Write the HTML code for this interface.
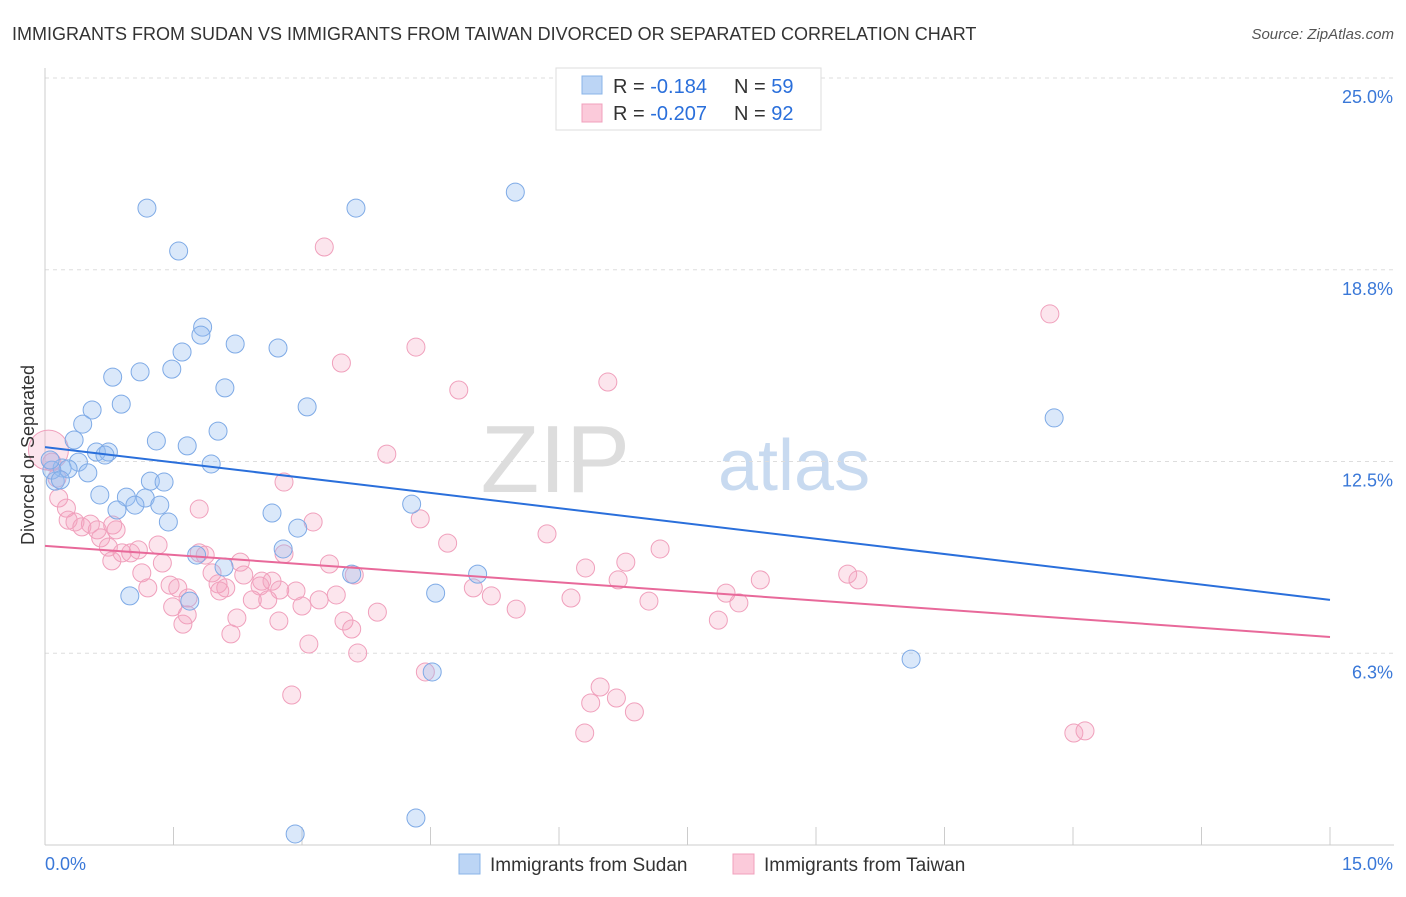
<!DOCTYPE html>
<html><head><meta charset="utf-8"><style>
body{margin:0;background:#fff;font-family:"Liberation Sans",sans-serif;}
svg text{font-family:"Liberation Sans",sans-serif;}
</style></head><body>
<svg width="1406" height="892" viewBox="0 0 1406 892">
<text x="12" y="40" font-size="18" fill="#333">IMMIGRANTS FROM SUDAN VS IMMIGRANTS FROM TAIWAN DIVORCED OR SEPARATED CORRELATION CHART</text>
<text x="1394" y="39" font-size="15" fill="#555" font-style="italic" text-anchor="end">Source: ZipAtlas.com</text>
<g>
<text x="630" y="492" font-size="96" fill="#ddd" text-anchor="end" font-family="Liberation Serif">ZIP</text>
<text x="718" y="490" font-size="72" fill="#c8daf0">atlas</text>
</g>
<g id="grid"></g><g id="axes"></g><g id="marks"></g>
<g>
<rect x="556" y="68" width="265" height="62" fill="#fff" stroke="#ddd"/>
<rect x="582" y="76" width="20" height="18" fill="#bcd5f5" stroke="#8ab4e8"/>
<rect x="582" y="104" width="20" height="18" fill="#fbcada" stroke="#f0a0bc"/>
<text x="613" y="93" font-size="20" fill="#333">R = <tspan fill="#2a6fdb">-0.184</tspan></text>
<text x="734" y="93" font-size="20" fill="#333">N = <tspan fill="#2a6fdb">59</tspan></text>
<text x="613" y="120" font-size="20" fill="#333">R = <tspan fill="#2a6fdb">-0.207</tspan></text>
<text x="734" y="120" font-size="20" fill="#333">N = <tspan fill="#2a6fdb">92</tspan></text>
</g>
<g>
<rect x="459" y="854" width="21" height="20" fill="#bcd5f5" stroke="#8ab4e8"/>
<text x="490" y="871" font-size="19" fill="#333">Immigrants from Sudan</text>
<rect x="733" y="854" width="21" height="20" fill="#fbcada" stroke="#f0a0bc"/>
<text x="764" y="871" font-size="19" fill="#333">Immigrants from Taiwan</text>
</g>
<text transform="translate(34,455) rotate(-90)" font-size="18" fill="#333" text-anchor="middle">Divorced or Separated</text>
</svg>
<script>
const yTicks=[6.25,12.5,18.75,25];
const yTickLabels=["6.3%","12.5%","18.8%","25.0%"];
const xTicks=[0,1.5,3,4.5,6,7.5,9,10.5,12,13.5,15];
const xEndLabels=["0.0%","15.0%"];
const sudanX=[1.19,1.56,3.63,5.49,1.84,1.82,2.22,2.72,1.60,0.79,1.11,1.48,2.10,0.89,3.06,0.55,0.44,2.02,1.30,0.34,1.66,0.60,0.74,0.70,0.39,1.94,0.20,0.27,0.50,1.23,1.39,0.12,0.64,0.95,1.17,1.05,1.34,0.84,2.65,4.28,2.95,1.44,2.78,1.77,2.09,3.58,5.05,0.99,1.69,4.56,4.52,10.11,11.78,2.92,4.33,0.08,0.18,0.06];
const sudanY=[20.76,19.36,20.76,21.28,16.88,16.62,16.33,16.20,16.07,15.25,15.42,15.51,14.90,14.37,14.28,14.18,13.72,13.49,13.17,13.20,13.01,12.81,12.81,12.71,12.48,12.42,12.29,12.26,12.13,11.86,11.83,11.86,11.41,11.34,11.31,11.08,11.08,10.92,10.82,11.11,10.33,10.53,9.65,9.45,9.06,8.83,8.83,8.12,7.95,8.21,5.64,6.06,13.92,0.36,0.88,12.22,11.90,12.55];
const taiwanX=[3.26,11.73,3.46,4.33,6.57,4.83,3.99,0.04,0.08,0.14,0.16,0.25,0.27,0.35,0.43,0.53,0.61,0.65,0.79,0.83,0.74,0.78,0.90,1.00,1.09,1.13,1.32,1.37,1.80,1.87,2.28,2.79,1.95,2.32,2.53,2.51,2.65,1.20,1.46,1.55,2.02,2.11,1.80,2.79,3.13,4.38,5.86,7.18,6.78,6.31,4.70,3.32,3.61,2.93,3.20,3.40,2.74,2.60,2.42,2.04,1.67,1.49,1.66,1.61,2.24,2.17,2.73,3.00,3.49,3.58,3.65,3.08,3.88,5.00,5.21,5.50,6.14,6.69,7.05,7.95,8.10,7.86,8.35,9.37,9.49,2.88,4.44,6.48,6.37,6.67,6.88,6.30,12.01,12.14];
const taiwanY=[19.49,17.31,15.71,16.23,15.09,14.83,12.74,12.87,12.48,11.96,11.31,10.98,10.59,10.53,10.37,10.46,10.27,10.01,10.43,10.27,9.71,9.26,9.52,9.52,9.62,8.87,9.78,9.19,9.52,9.45,9.22,9.49,8.87,8.80,8.60,8.44,8.60,8.38,8.47,8.38,8.51,8.38,10.95,11.83,10.53,10.63,10.14,9.65,9.22,9.03,9.84,9.16,8.80,8.28,7.99,8.15,8.31,7.99,7.99,8.28,8.05,7.76,7.50,7.20,7.40,6.88,7.30,7.79,7.30,7.04,6.26,6.55,7.59,8.38,8.12,7.69,8.05,8.64,7.95,8.21,7.89,7.33,8.64,8.83,8.64,4.89,5.64,5.15,4.63,4.79,4.34,3.65,3.65,3.72];
const sudanTrend=[12.97,7.99];
const taiwanTrend=[9.75,6.78];
const trendX=[0,15];

const NS="http://www.w3.org/2000/svg";
const X0=45,X1=1330,Y0=845,YTOP=78;
const xs=v=>X0+(v/15)*(X1-X0);
const ys=v=>Y0-(v/25)*(Y0-YTOP);
function mk(tag,attrs,parent){const e=document.createElementNS(NS,tag);for(const k in attrs)e.setAttribute(k,attrs[k]);parent.appendChild(e);return e;}
const grid=document.getElementById('grid'),axes=document.getElementById('axes'),marks=document.getElementById('marks');
yTicks.forEach((t,i)=>{
  const l=mk('line',{x1:X0,x2:1394,y1:ys(t),y2:ys(t),stroke:'#ddd','stroke-dasharray':'4,4'},grid);
  
  
  const tx=mk('text',{x:1393,y:ys(t)+25,'font-size':18,fill:'#3a78d8','text-anchor':'end'},axes);
  tx.textContent=yTickLabels[i];
  
  
});
const ax=mk('line',{x1:X0,x2:1394,y1:Y0,y2:Y0,stroke:'#ccc'},axes);


const ay=mk('line',{x1:X0,x2:X0,y1:68,y2:Y0,stroke:'#ccc'},axes);


xTicks.forEach(t=>{
  const l=mk('line',{x1:xs(t),x2:xs(t),y1:Y0,y2:Y0-18,stroke:'#ccc'},axes);
  
  
});
const xl0=mk('text',{x:45,y:870,'font-size':18,fill:'#3a78d8'},axes);xl0.textContent=xEndLabels[0];


const xl1=mk('text',{x:1393,y:870,'font-size':18,fill:'#3a78d8','text-anchor':'end'},axes);xl1.textContent=xEndLabels[1];


function pts(X,Y,fill,stroke,name){
  X.forEach((x,i)=>{
    const r=(name==='taiwan-point'&&i===7)?20:9;
    const c=mk('circle',{cx:xs(x),cy:ys(Y[i]),r:r,fill:fill,stroke:stroke,'stroke-width':1},marks);
    
    
  });
}
pts(taiwanX,taiwanY,'rgba(244,160,190,0.28)','#f0a0bc','taiwan-point');
pts(sudanX,sudanY,'rgba(150,190,240,0.35)','#7eaae6','sudan-point');
const l1=mk('line',{x1:xs(trendX[0]),y1:ys(sudanTrend[0]),x2:xs(trendX[1]),y2:ys(sudanTrend[1]),stroke:'#2a6fdb','stroke-width':2},marks);


const l2=mk('line',{x1:xs(trendX[0]),y1:ys(taiwanTrend[0]),x2:xs(trendX[1]),y2:ys(taiwanTrend[1]),stroke:'#e8699a','stroke-width':2},marks);


</script>
</body></html>
